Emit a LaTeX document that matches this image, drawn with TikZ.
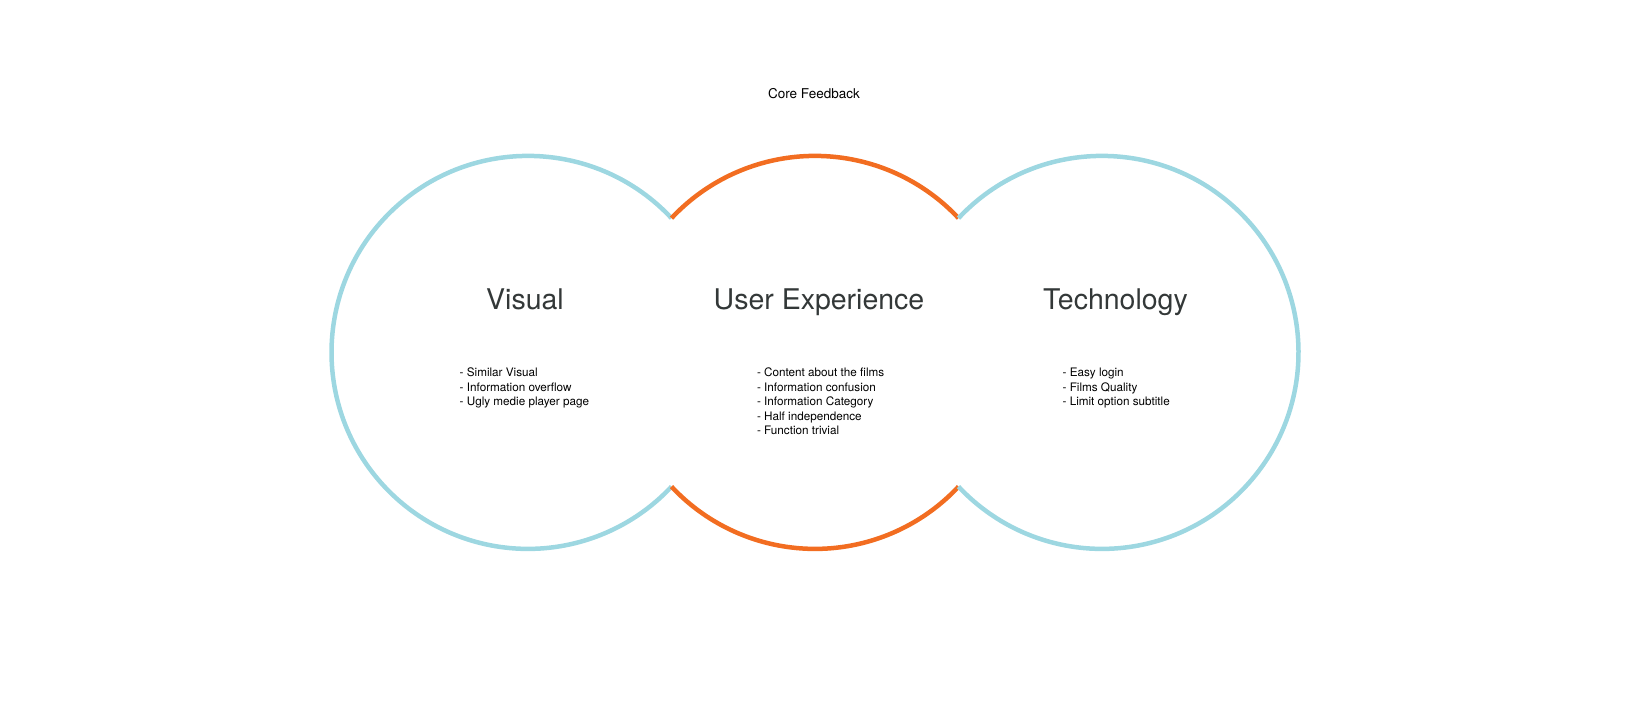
\documentclass[tikz,border=0pt]{standalone}
\usepackage{fontspec}
\setmainfont{TeX Gyre Heros}
\usepackage{xcolor}
\usetikzlibrary{positioning}
\definecolor{ringblue}{HTML}{9DD7E1}
\definecolor{ringorange}{HTML}{F26D21}
\definecolor{headgrey}{HTML}{333838}
\tikzset{
    %Define style for the outer rings
    sidering/.style={
           draw=ringblue,
           line width=4.5pt},
    % Define style for the middle ring
    midring/.style={
           draw=ringorange,
           line width=4.5pt},
    % Define style for headings
    heading/.style={
           anchor=base,
           inner sep=0pt,
           text=headgrey,
           font=\fontsize{28.5}{32}\selectfont},
    % Define style for the lists
    liste/.style={
           anchor=north west,
           inner sep=0pt,
           align=left,
           font=\fontsize{11.7}{14.5}\selectfont}
}
\begin{document}
\begin{tikzpicture}[x=1pt, y=1pt]
    \useasboundingbox (0,0) rectangle (1630,702);
    \coordinate (vis) at (528,349.6);
    \coordinate (ux) at (815,349.6);
    \coordinate (tech) at (1102,349.6);
    % rings
    \draw[sidering] ([shift={(43.08:196.5)}]vis) arc[start angle=43.08, end angle=316.92, radius=196.5];
    \draw[midring] ([shift={(43.08:196.5)}]ux) arc[start angle=43.08, end angle=136.92, radius=196.5];
    \draw[midring] ([shift={(223.08:196.5)}]ux) arc[start angle=223.08, end angle=316.92, radius=196.5];
    \draw[sidering] ([shift={(136.92:196.5)}]tech) arc[start angle=136.92, end angle=-136.92, radius=196.5];
    % texts
    \node[anchor=base, inner sep=0pt, font=\fontsize{13.5}{16}\selectfont] (core) at (814,603) {Core Feedback};
    \node[heading] (vishead) at (525,392) {Visual};
    \node[heading] (uxhead) at (819,392) {User Experience};
    \node[heading] (techhead) at (1115.5,392) {Technology};
    \node[liste] (vislist) at (459.5,334.2) {- Similar Visual\\- Information overflow\\- Ugly medie player page};
    \node[liste] (uxlist) at (756.8,334.2) {- Content about the films\\- Information confusion\\- Information Category\\- Half independence\\- Function trivial};
    \node[liste] (techlist) at (1062.4,334.2) {- Easy login\\- Films Quality\\- Limit option subtitle};
\end{tikzpicture}
\end{document}
